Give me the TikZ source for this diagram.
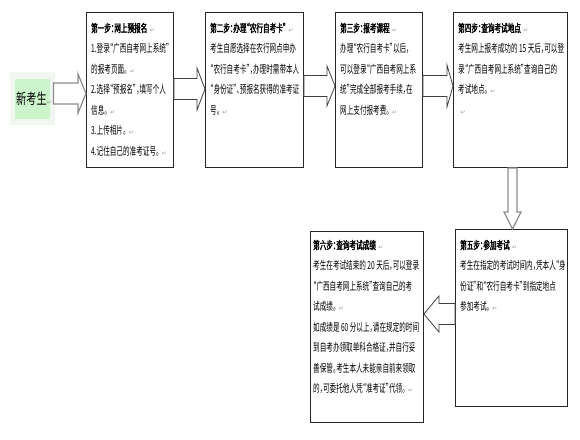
\documentclass[tikz,border=0pt]{standalone}
\usepackage{fontspec}
\usetikzlibrary{calc}
\newfontfamily\cjk[FakeStretch=0.6,RawFeature=+halt]{Noto Sans CJK SC}
\newfontfamily\cjkb[FakeStretch=0.6,FakeBold=2,RawFeature=+halt]{Noto Sans CJK SC}
\newfontfamily\cjkbig[FakeStretch=0.68]{Noto Sans CJK SC}
\newfontfamily\symf{DejaVu Sans}
\newcommand{\pmk}{\hspace{2.5pt}{\symf\fontsize{6}{6}\selectfont\color{black!40}↵}}
\newcommand{\ttl}[1]{{\cjkb #1}}
\definecolor{newgreen}{RGB}{204,245,204}
\definecolor{halo}{RGB}{241,246,241}
\newcommand{\harrow}[6]{%
\draw[#6] ($(#1)+(0,-#3)$) -- ($(#2)+({-(#5)},-#3)$) -- ($(#2)+({-(#5)},-#4)$) -- (#2) -- ($(#2)+({-(#5)},#4)$) -- ($(#2)+({-(#5)},#3)$) -- ($(#1)+(0,#3)$) -- cycle;}
\newcommand{\varrow}[6]{%
\draw[#6] ($(#1)+(-#3,0)$) -- ($(#2)+(-#3,{-(#5)})$) -- ($(#2)+(-#4,{-(#5)})$) -- (#2) -- ($(#2)+(#4,{-(#5)})$) -- ($(#2)+(#3,{-(#5)})$) -- ($(#1)+(#3,0)$) -- cycle;}
\begin{document}
\begin{tikzpicture}[x=1pt,y=-1pt,
  box/.style={draw=black!85, line width=0.9pt, fill=white, inner sep=0, anchor=north west},
  txt/.style={anchor=north west, inner sep=0, align=left, font=\cjk\fontsize{11}{20.5}\selectfont},
  barrow/.style={draw=black!75, line width=0.8pt, fill=white, line join=miter},
  garrow/.style={draw=black!45, line width=1.2pt, fill=white, line join=miter}]
\useasboundingbox (0,0) rectangle (580,439);
\fill[white] (0,0) rectangle (580,439);
% new candidate
\node[fill=halo, inner sep=0, minimum width=45pt, minimum height=53pt, anchor=north west] (hl) at (10,72) {};
\node[fill=newgreen, inner sep=0, minimum width=35pt, minimum height=40pt, anchor=north west] (g) at (15,79) {};
\node[inner sep=0, anchor=west, font=\cjkbig\fontsize{15}{15}\selectfont] (gt) at ($(g.west)+(1,0)$) {新考生{\symf\fontsize{6}{6}\selectfont\color{black!40}↵}};
% boxes
\node[box, minimum width=87pt, minimum height=155pt] (b1) at (86,12) {};
\node[box, minimum width=98pt, minimum height=155pt] (b2) at (205,12) {};
\node[box, minimum width=87pt, minimum height=155pt] (b3) at (335,12) {};
\node[box, minimum width=114pt, minimum height=155pt] (b4) at (453,12) {};
\node[box, minimum width=112pt, minimum height=177pt] (b5) at (455,229) {};
\node[box, minimum width=113pt, minimum height=191pt] (b6) at (310,231) {};
% texts
\node[txt] (t1) at ($(b1.north west)+(5,8)$) {\rule{0pt}{12pt}\ttl{第一步：网上预报名}\pmk\\1.登录“广西自考网上系统”\\的报考页面。\pmk\\2.选择“预报名”，填写个人\\信息。\pmk\\3.上传相片。\pmk\\4.记住自己的准考证号。\pmk};
\node[txt] (t2) at ($(b2.north west)+(5,8)$) {\rule{0pt}{12pt}\ttl{第二步：办理“农行自考卡”}\pmk\\考生自愿选择在农行网点申办\\“农行自考卡”，办理时需带本人\\“身份证”、预报名获得的准考证\\号。\pmk};
\node[txt] (t3) at ($(b3.north west)+(5,8)$) {\rule{0pt}{12pt}\ttl{第三步：报考课程}\pmk\\办理“农行自考卡”以后，\\可以登录“广西自考网上系\\统”完成全部报考手续，在\\网上支付报考费。\pmk};
\node[txt] (t4) at ($(b4.north west)+(5,8)$) {\rule{0pt}{12pt}\ttl{第四步：查询考试地点}\pmk\\考生网上报考成功的 15 天后，可以登\\录“广西自考网上系统”查询自己的\\考试地点。\pmk\\\pmk};
\node[txt] (t5) at ($(b5.north west)+(5,8)$) {\rule{0pt}{12pt}\ttl{第五步：参加考试}\pmk\\考生在指定的考试时间内，凭本人“身\\份证”和“农行自考卡”到指定地点\\参加考试。\pmk};
\node[txt] (t6) at ($(b6.north west)+(3,6)$) {\rule{0pt}{12pt}\ttl{第六步：查询考试成绩}\pmk\\考生在考试结束的 20 天后，可以登录\\“广西自考网上系统”查询自己的考\\试成绩。\pmk\\如成绩是 60 分以上，请在规定的时间\\到自考办领取单科合格证，并自行妥\\善保管。考生本人未能亲自前来领取\\的，可委托他人凭“准考证”代领。\pmk};
% arrow rows
\coordinate (r0) at (0,93.5);
\coordinate (r1) at (0,89);
\coordinate (r2) at (0,86);
\coordinate (r3) at (0,86);
\coordinate (r5) at (0,314);
\coordinate (c4) at (512.5,0);
\coordinate (a0s) at ($(hl.east |- r0)+(-2,0)$);
\coordinate (a0t) at (b1.west |- r0);
\coordinate (a1s) at (b1.east |- r1);
\coordinate (a1t) at (b2.west |- r1);
\coordinate (a2s) at (b2.east |- r2);
\coordinate (a2t) at (b3.west |- r2);
\coordinate (a3s) at (b3.east |- r3);
\coordinate (a3t) at (b4.west |- r3);
\coordinate (a5s) at (b5.west |- r5);
\coordinate (a5t) at (b6.east |- r5);
\coordinate (a4s) at (b4.south -| c4);
\coordinate (a4t) at (b5.north -| c4);
\harrow{a0s}{a0t}{10.5}{19.5}{8}{garrow}
\harrow{a1s}{a1t}{10.5}{21}{8}{barrow}
\harrow{a2s}{a2t}{10.5}{20}{8}{barrow}
\harrow{a3s}{a3t}{10.5}{21}{6}{barrow}
\harrow{a5s}{a5t}{10.5}{18}{-15}{barrow}
\varrow{a4s}{a4t}{4.5}{8.5}{17}{garrow}
\end{tikzpicture}
\end{document}
